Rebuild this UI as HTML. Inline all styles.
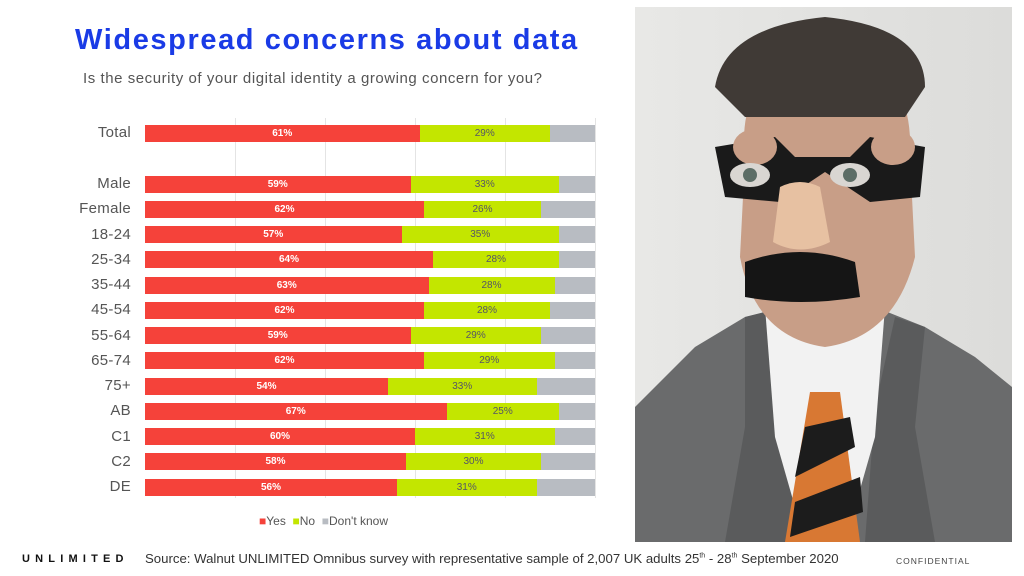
<!DOCTYPE html>
<html><head><meta charset="utf-8"><style>
body{margin:0;width:1024px;height:576px;background:#fff;position:relative;overflow:hidden;font-family:"Liberation Sans",sans-serif}
.t{position:absolute;left:75px;top:24px;font-size:29px;font-weight:bold;color:#1a3be6;letter-spacing:1.6px}
.s{position:absolute;left:83px;top:70px;font-size:15px;color:#555;letter-spacing:0.55px}
.lab{position:absolute;width:131px;left:0;text-align:right;font-size:15px;color:#555;letter-spacing:0.3px}
.bar{position:absolute;left:145px;height:17px;display:flex;width:450px}
.bar div{height:100%;display:flex;align-items:center;justify-content:center;font-size:10px}
.y{background:#f5423a;color:#fff;font-weight:bold}
.n{background:#c3e600;color:#556}
.d{background:#b8bcc2}
.g{position:absolute;top:118px;height:380px;width:1px;background:#e4e4e4}
</style></head><body>
<div class="t">Widespread concerns about data</div>
<div class="s">Is the security of your digital identity a growing concern for you?</div>
<div class="g" style="left:235px"></div><div class="g" style="left:325px"></div><div class="g" style="left:415px"></div><div class="g" style="left:505px"></div><div class="g" style="left:595px"></div>
<div id="c"></div>
<div style="position:absolute;left:259px;top:514px;font-size:12px;color:#555"><span style="color:#f5423a">■</span>Yes &nbsp;<span style="color:#c3e600">■</span>No &nbsp;<span style="color:#b8bcc2">■</span>Don't know</div>
<div style="position:absolute;left:22px;top:553px;font-size:11px;font-weight:bold;letter-spacing:5.2px;color:#111">UNLIMITED</div>
<div style="position:absolute;left:145px;top:551px;font-size:13.2px;color:#333">Source: Walnut UNLIMITED Omnibus survey with representative sample of 2,007 UK adults 25<sup style="font-size:7px">th</sup> - 28<sup style="font-size:7px">th</sup> September 2020</div>
<div style="position:absolute;left:896px;top:556px;font-size:8.5px;letter-spacing:1px;color:#444">CONFIDENTIAL</div>
<svg style="position:absolute;left:635px;top:7px" width="377" height="535" viewBox="0 0 377 535">
<defs><linearGradient id="bg" x1="0" x2="1"><stop offset="0" stop-color="#e8e8e6"/><stop offset="1" stop-color="#dcdcda"/></linearGradient></defs>
<rect width="377" height="535" fill="url(#bg)"/>
<path d="M0 400 L60 340 L110 310 L150 300 L240 300 L290 320 L340 350 L377 380 L377 535 L0 535Z" fill="#6a6b6c"/>
<path d="M110 310 L150 300 L170 400 L160 535 L90 535 L110 420Z" fill="#5a5b5c"/>
<path d="M260 310 L290 320 L280 420 L300 535 L230 535 L240 400Z" fill="#5a5b5c"/>
<path d="M130 300 L250 300 L240 430 L210 535 L170 535 L140 430Z" fill="#f2f2f2"/>
<path d="M175 385 L205 385 L225 535 L150 535Z" fill="#d87833"/>
<path d="M170 420 L215 410 L220 440 L160 470Z M160 495 L225 470 L228 505 L155 530Z" fill="#1c1c1c"/>
<path d="M110 150 Q100 60 190 40 Q280 50 275 150 L280 250 Q260 330 190 340 Q120 330 105 250Z" fill="#c89e87"/>
<path d="M80 80 Q90 20 190 10 Q290 20 290 80 L270 110 L110 110Z" fill="#403a36"/>
<path d="M80 140 L140 130 L160 150 L215 150 L235 130 L290 140 L285 190 L235 195 L190 165 L145 195 L90 190Z" fill="#1a1a1a"/>
<ellipse cx="120" cy="140" rx="22" ry="18" fill="#c89e87"/><ellipse cx="258" cy="140" rx="22" ry="18" fill="#c89e87"/>
<ellipse cx="115" cy="168" rx="20" ry="12" fill="#d9d6d2"/><ellipse cx="215" cy="168" rx="20" ry="12" fill="#d9d6d2"/>
<circle cx="115" cy="168" r="7" fill="#5c6d66"/><circle cx="215" cy="168" r="7" fill="#5c6d66"/>
<path d="M145 180 Q165 170 185 180 L195 235 Q165 250 138 235Z" fill="#e7c1a2"/>
<path d="M110 255 Q165 235 220 255 L225 290 Q165 300 110 290Z" fill="#151515"/>
</svg>
<script>
var d=[["Total",61,29,133],["Male",59,33,184],["Female",62,26],["18-24",57,35],["25-34",64,28],["35-44",63,28],["45-54",62,28],["55-64",59,29],["65-74",62,29],["75+",54,33],["AB",67,25],["C1",60,31],["C2",58,30],["DE",56,31]];
var h="";d.forEach(function(r,i){var y=i==0?133:184+(i-1)*25.25;
h+='<div class="lab" style="top:'+(y-9)+'px">'+r[0]+'</div><div class="bar" style="top:'+(y-8.5)+'px"><div class="y" style="width:'+r[1]+'%">'+r[1]+'%</div><div class="n" style="width:'+r[2]+'%">'+r[2]+'%</div><div class="d" style="flex:1"></div></div>';});
document.getElementById("c").innerHTML=h;
</script>
</body></html>
